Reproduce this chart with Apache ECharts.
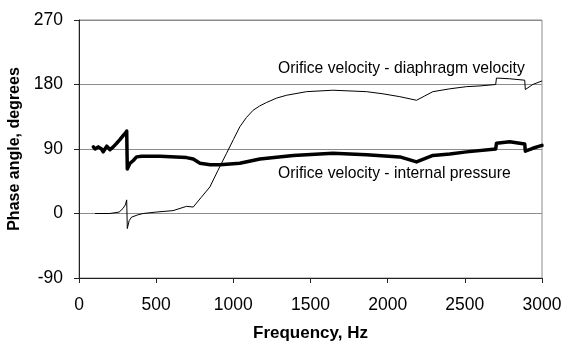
<!DOCTYPE html>
<html><head><meta charset="utf-8">
<script src="https://cdn.jsdelivr.net/npm/echarts@6/dist/echarts.min.js"></script>
<style>html,body{margin:0;padding:0;background:#fff}#c{width:563px;height:342px}</style>
</head><body><div id="c"></div>
<script>
// Orifice velocity - diaphragm velocity (thin line)
const diaFreq  = [104, 200, 260, 285, 300, 309, 313, 325, 341, 380, 415, 500, 609, 697, 740, 790, 848, 900, 956, 1000, 1042, 1085, 1128, 1170, 1216, 1280, 1345, 1474, 1645, 1863, 1970, 2079, 2187, 2240, 2293, 2403, 2511, 2598, 2700, 2705, 2791, 2888, 2892, 2940, 3000];
const diaPhase = [0, 0, 2, 7, 12, 19, -21, -10, -5, -2, 0, 2, 4, 10, 9, 22, 37, 60, 84, 103, 121, 134, 144, 150, 155, 161, 165, 170, 172, 170, 167, 163, 158, 164, 170, 174, 177, 178, 180, 189, 188, 186, 173, 180, 185];
// Orifice velocity - internal pressure (thick line)
const presFreq  = [93, 104, 115, 125, 136, 146, 157, 168, 180, 190, 201, 222, 244, 265, 287, 300, 309, 313, 330, 352, 373, 406, 525, 697, 740, 784, 850, 913, 1042, 1172, 1388, 1645, 1863, 2079, 2187, 2293, 2403, 2511, 2700, 2705, 2791, 2888, 2892, 2940, 3000];
const presPhase = [93, 90, 88, 93, 95, 90, 86, 90, 94, 92, 89, 93, 98, 103, 109, 112, 115, 62, 70, 74, 79, 80, 80, 78, 76, 70, 68, 68, 70, 76, 81, 84, 82, 79, 72, 81, 83, 86, 90, 98, 100, 97, 87, 91, 95];
const xTicks = [0, 500, 1000, 1500, 2000, 2500, 3000];
const yTicks = [-90, 0, 90, 180, 270];
const labelDia = 'Orifice velocity - diaphragm velocity';
const labelPres = 'Orifice velocity - internal pressure';

const zip = (a, b) => a.map((v, i) => [v, b[i]]);
const chart = echarts.init(document.getElementById('c'), null, {renderer: 'canvas'});
const font = 'Liberation Sans, Arial, sans-serif';
chart.setOption({
  animation: false,
  backgroundColor: '#fff',
  grid: {left: 79, right: 21, top: 20, bottom: 64, containLabel: false, outerBoundsMode: 'none',
         show: true, borderColor: '#8c8c8c', borderWidth: 1},
  xAxis: {
    type: 'value', min: xTicks[0], max: xTicks[xTicks.length - 1], interval: 500,
    axisLine: {onZero: false, lineStyle: {color: '#222', width: 1}},
    axisTick: {show: true, inside: false, length: 5, lineStyle: {color: '#222'}},
    axisLabel: {color: '#000', fontSize: 17.5, fontFamily: font, margin: 18, formatter: v => String(v)},
    splitLine: {show: false},
    name: 'Frequency, Hz', nameLocation: 'middle', nameGap: 47,
    nameTextStyle: {color: '#000', fontSize: 17, fontWeight: 'bold', fontFamily: font}
  },
  yAxis: {
    type: 'value', min: yTicks[0], max: yTicks[yTicks.length - 1], interval: 90,
    axisLine: {show: true, lineStyle: {color: '#222', width: 1}},
    axisTick: {show: true, inside: false, length: 5, lineStyle: {color: '#222'}},
    axisLabel: {color: '#000', fontSize: 17.5, fontFamily: font, margin: 16, formatter: v => String(v)},
    splitLine: {show: true, lineStyle: {color: '#8c8c8c', width: 1}},
    name: 'Phase angle, degrees', nameLocation: 'middle', nameGap: 53,
    nameTextStyle: {color: '#000', fontSize: 16, fontWeight: 'bold', fontFamily: font}
  },
  series: [
    {type: 'line', data: zip(diaFreq, diaPhase), showSymbol: false, smooth: false,
     lineStyle: {color: '#000', width: 1}, z: 3},
    {type: 'line', data: zip(presFreq, presPhase), showSymbol: false, smooth: false,
     lineStyle: {color: '#000', width: 3.5, join: 'round', cap: 'round'}, z: 4}
  ],
  graphic: [
    {type: 'text', left: 278, top: 61, style: {text: labelDia, fill: '#000', font: '15.7px ' + font}},
    {type: 'text', left: 278, top: 166, style: {text: labelPres, fill: '#000', font: '15.7px ' + font}}
  ]
});
</script></body></html>
